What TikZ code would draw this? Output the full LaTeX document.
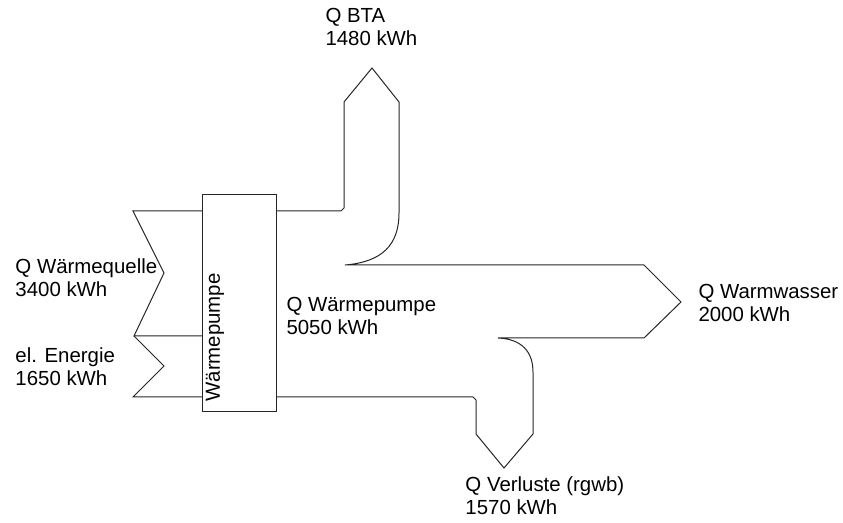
\documentclass[tikz,border=0pt]{standalone}
\usepackage{fontspec}
\setmainfont{Liberation Sans}
\usepackage{tikz}

\begin{document}
\begin{tikzpicture}[x=0.5pt,y=-0.5pt,line width=0.5pt,
  font=\fontsize{10.2}{11.7}\selectfont,
  lbl/.style={anchor=base west,align=left,inner sep=0pt},
  flow/.style={draw=black!85,line join=miter}]
  \useasboundingbox (0,0) rectangle (843,523);
  % inputs
  \draw[flow] (202,211) -- (133,211) -- (164,273) -- (134,336) -- (202,336);
  \draw[flow] (134,336) -- (164,366) -- (133,397) -- (202,397);
  % heat pump
  \node[draw=black!85,minimum width=37pt,minimum height=108.5pt,inner sep=0pt] (wp) at (239,303.5) {};
  \node[rotate=90,anchor=base west,inner sep=0pt] (wplbl) at (220,402) {Wärmepumpe};
  % outputs
  \draw[flow] (276,211) -- (341,211) -- (344,208) -- (344,102) -- (372,68) -- (399,102) -- (399,213)
    .. controls (399,245) and (382,262) .. (345,265) -- (644,265) -- (681,302) -- (644,338) -- (498,338)
    .. controls (522,339) and (533,352) .. (533,372) -- (533,434) -- (504,468) -- (476,434) -- (476,400)
    -- (473,397) -- (276,397);
  % labels (base = last line)
  \node[lbl] (qbta) at (325,46) {Q BTA\\1480 kWh};
  \node[lbl] (qquelle) at (15,297) {Q Wärmequelle\\3400 kWh};
  \node[lbl] (qel) at (15,386) {el. Energie\\1650 kWh};
  \node[lbl] (qwp) at (286,335) {Q Wärmepumpe\\5050 kWh};
  \node[lbl] (qww) at (698,322) {Q Warmwasser\\2000 kWh};
  \node[lbl] (qverl) at (465,515) {Q Verluste (rgwb)\\1570 kWh};
\end{tikzpicture}
\end{document}
